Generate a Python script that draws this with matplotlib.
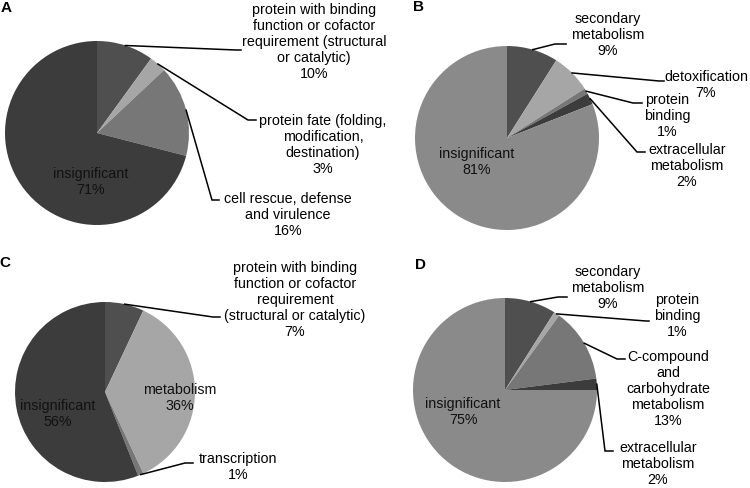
import numpy as np
import matplotlib
matplotlib.use("Agg")
import matplotlib.pyplot as plt

plt.rcParams['font.family'] = ['Liberation Sans', 'DejaVu Sans']

# Panel A
a_names = ["protein with binding\nfunction or cofactor\nrequirement (structural\nor catalytic)",
           "protein fate (folding,\nmodification,\ndestination)",
           "cell rescue, defense\nand virulence",
           "insignificant"]
a_values = [10, 3, 16, 71]

# Panel B
b_names = ["secondary\nmetabolism", "detoxification", "protein\nbinding",
           "extracellular\nmetabolism", "insignificant"]
b_values = [9, 7, 1, 2, 81]

# Panel C
c_names = ["protein with binding\nfunction or cofactor\nrequirement\n(structural or catalytic)",
           "metabolism", "transcription", "insignificant"]
c_values = [7, 36, 1, 56]

# Panel D
d_names = ["secondary\nmetabolism", "protein\nbinding",
           "C-compound\nand\ncarbohydrate\nmetabolism",
           "extracellular\nmetabolism", "insignificant"]
d_values = [9, 1, 13, 2, 75]

palette = ['#4f4f4f', '#a6a6a6', '#777777', '#3c3c3c', '#8a8a8a']

W, H = 750, 488
FS = 10.3


def drawPie(ax, values, names, center, radius, layout):
    """ Draws one pie (clockwise from 12 o'clock) and its labels.

    layout: one entry per slice, (text_x, text_y, elbow) where elbow is
    None for a label inside the pie, or (ex, ey, hx) for a leader line.
    """
    wedges, _ = ax.pie(values, colors=palette[:len(values)], center=center,
                       radius=radius, startangle=-90, counterclock=True,
                       wedgeprops=dict(linewidth=0))

    for w, name, v, lay in zip(wedges, names, values, layout):
        tx, ty, elbow = lay
        ax.text(tx, ty, "%s\n%d%%" % (name, v), ha='center', va='center',
                fontsize=FS, color='black' if elbow else '#111111',
                linespacing=1.18)
        if elbow is None:
            continue
        # leader line from the middle of the wedge's arc
        mid = np.deg2rad((w.theta1 + w.theta2) / 2)
        sx = center[0] + radius * np.cos(mid)
        sy = center[1] + radius * np.sin(mid)
        ex, ey, hx = elbow
        ax.plot([sx, ex, hx], [sy, ey, ey], color='black', lw=1.1,
                solid_joinstyle='miter')


fig = plt.figure(figsize=(W / 100, H / 100), dpi=100)
ax = fig.add_axes([0, 0, 1, 1])

drawPie(ax, a_values, a_names, (97, 133), 92,
        [(314, 42, (236, 50, 241)),
         (323, 145, (248, 120, 256)),
         (288, 215, (212, 200, 219)),
         (91, 182, None)])

drawPie(ax, b_values, b_names, (507, 138), 92,
        [(608, 35, (555, 44, 566)),
         (706, 85, (659, 81, 664)),
         (667, 116, (633, 103, 642)),
         (687, 166, (637, 152, 645)),
         (477, 162, None)])

drawPie(ax, c_values, c_names, (105, 392), 90,
        [(295, 300, (213, 317, 220)),
         (180, 398, None),
         (238, 467, (185, 463, 193)),
         (58, 414, None)])

drawPie(ax, d_values, d_names, (505, 390), 92,
        [(608, 288, (558, 297, 567)),
         (677, 316, (646, 321, 649)),
         (668, 389, (617, 359, 625)),
         (658, 464, (605, 451, 613)),
         (463, 412, None)])

# Panel letters
for letter, x, y in [("A", 6, 8), ("B", 418, 7), ("C", 5, 263), ("D", 420, 265)]:
    ax.text(x, y, letter, ha='center', va='center', fontsize=11,
            fontweight='bold')

ax.set_xlim(0, W)
ax.set_ylim(H, 0)
ax.set_aspect('equal')
ax.axis('off')

fig.savefig("out.png", dpi=100)
